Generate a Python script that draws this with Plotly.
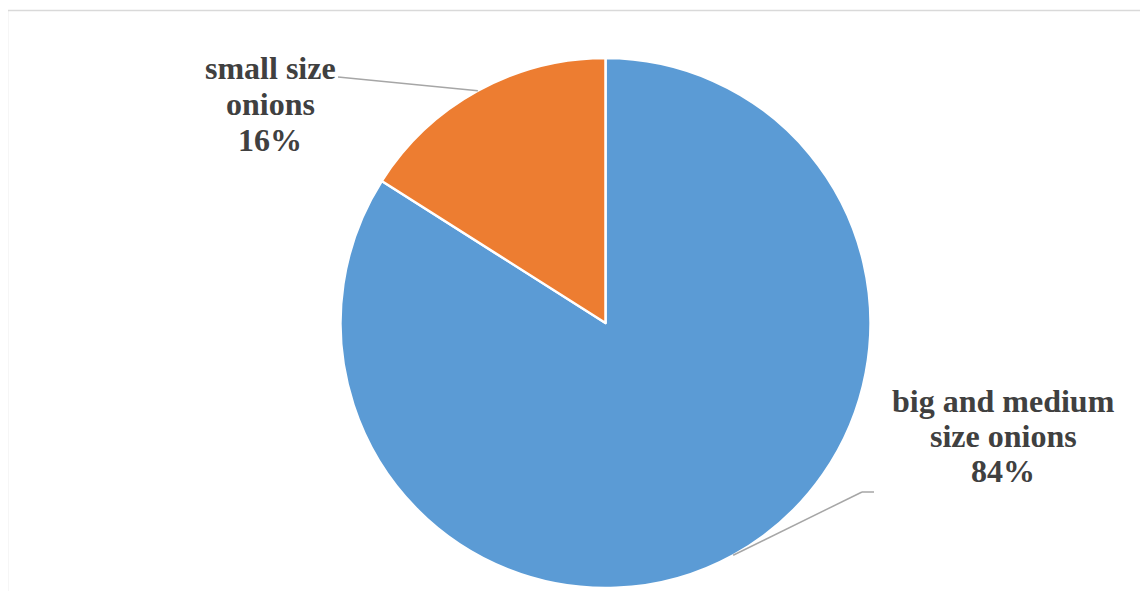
import math
import plotly.graph_objects as go

categories = ["big and medium size onions", "small size onions"]
values = [84, 16]
colors = ["#5B9BD5", "#ED7D31"]
label_lines = [["big and medium", "size onions"], ["small size", "onions"]]

W, H = 1148, 591
OFF = 8  # page body margin offset
cx, cy, r = 605.5 - OFF, 323 - OFF, 265
FONT = "Liberation Serif, Times New Roman, serif"

fig = go.Figure(go.Pie(
    labels=categories, values=values, sort=False, direction="clockwise",
    rotation=0, marker=dict(colors=colors, line=dict(color="white", width=2.5)),
    textinfo="none", hoverinfo="label+percent", showlegend=False,
    domain=dict(x=[(cx - r) / W, (cx + r) / W], y=[(H - cy - r) / H, (H - cy + r) / H]),
))

def px(x, y):
    return (x - OFF) / W, 1 - (y - OFF) / H

total = sum(values)
cum = 0
label_x = [1003, 270]
label_y = [[401, 436, 471], [68, 104, 140]]
elbow = [[(862, 492), (874, 492)], [(338, 77)]]
shapes = []
annotations = []
for i, v in enumerate(values):
    mid = (cum + v / 2) / total * 2 * math.pi
    cum += v
    ex, ey = cx + OFF + r * math.sin(mid), cy + OFF - r * math.cos(mid)
    pts = [(ex, ey)] + elbow[i]
    for (x0, y0), (x1, y1) in zip(pts[:-1], pts[1:]):
        a0, b0 = px(x0, y0)
        a1, b1 = px(x1, y1)
        shapes.append(dict(type="line", xref="paper", yref="paper", x0=a0, y0=b0, x1=a1, y1=b1,
                           line=dict(color="#A6A6A6", width=1.5)))
    lines = label_lines[i] + [f"{round(v / total * 100)}%"]
    for line, ly in zip(lines, label_y[i]):
        ax, ay = px(label_x[i], ly)
        annotations.append(dict(x=ax, y=ay, xref="paper", yref="paper", text=f"<b>{line}</b>",
                                showarrow=False, xanchor="center", yanchor="middle", align="center",
                                font=dict(family=FONT, size=32, color="#404040")))

# chart area border
bx0, by0 = px(7.5, 10.5)
shapes.append(dict(type="rect", xref="paper", yref="paper", x0=bx0, y0=-0.05, x1=1.05, y1=by0,
                   line=dict(color="#D9D9D9", width=1.5), fillcolor="rgba(0,0,0,0)", layer="below"))

fig.update_layout(
    width=W, height=H, margin=dict(l=0, r=0, t=0, b=0),
    paper_bgcolor="white", plot_bgcolor="white",
    font=dict(family=FONT),
    shapes=shapes, annotations=annotations,
)
fig.write_html("out.html")
